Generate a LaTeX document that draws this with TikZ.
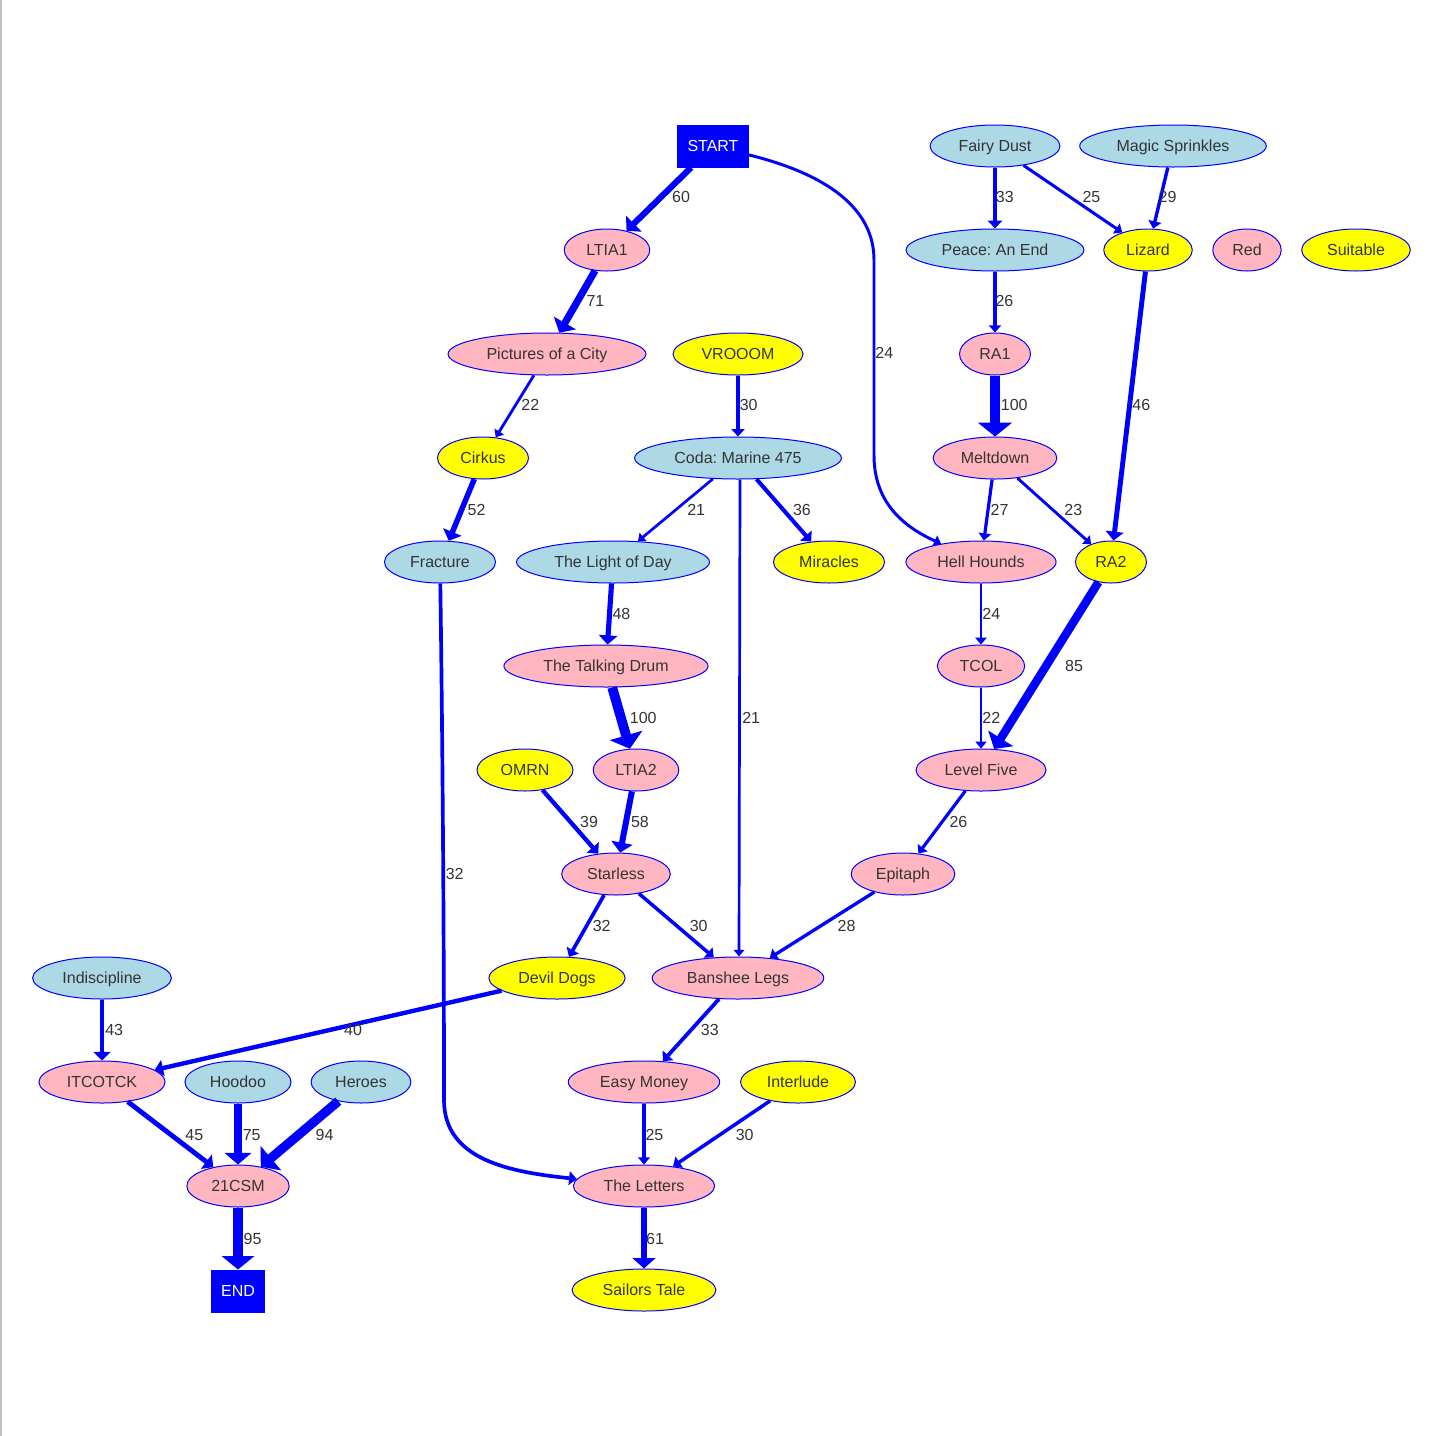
\documentclass[tikz,border=0pt]{standalone}
\usepackage{fontspec}
\setmainfont{Liberation Sans}
\usetikzlibrary{arrows.meta, shapes.geometric}
\definecolor{vblue}{HTML}{0000FF}
\definecolor{pinknode}{HTML}{FFB6C1}
\definecolor{bluenode}{HTML}{ADD8E6}
\definecolor{yellownode}{HTML}{FFFF00}
\definecolor{txtgray}{HTML}{343434}
\definecolor{framegray}{HTML}{C0C0C0}

\begin{document}
\frenchspacing
\begin{tikzpicture}[
  x=1pt, y=-1pt,
  song/.style={
    ellipse, draw=vblue, line width=1pt, fill=#1,
    font=\fontsize{16}{19}\selectfont, text=txtgray,
    inner xsep=9.5pt, inner ysep=0pt, minimum height=42pt,
    text height=12.5pt, text depth=1pt
  },
  endbox/.style={
    rectangle, draw=vblue, line width=1pt, fill=vblue, text=white,
    font=\fontsize{16}{19}\selectfont,
    inner xsep=10pt, inner ysep=0pt, minimum height=42pt,
    text height=12.5pt, text depth=1pt
  },
  link/.style={draw=vblue, line width={0.9*#1pt+0.8pt},
    -{Triangle[length=4pt 1, width=2pt 3.2]}},
  wlabel/.style={font=\fontsize{16}{19}\selectfont, text=txtgray,
    anchor=west, inner sep=0pt},
]

% Frame
\useasboundingbox (0,0) rectangle (1436,1436);
\fill[white] (0,0) rectangle (1436,1436);
\fill[framegray] (0,0) rectangle (2,1436);

% =============================================
% Nodes
% =============================================
\node[endbox] (start) at (713,146) {START};
\node[song={bluenode}] (fairydust) at (995,146) {Fairy Dust};
\node[song={bluenode}] (magic) at (1173,146) {Magic Sprinkles};

\node[song={pinknode}] (ltia1) at (607,250) {LTIA1};
\node[song={bluenode}] (peace) at (995,250) {Peace: An End};
\node[song={yellownode}] (lizard) at (1148,250) {Lizard};
\node[song={pinknode}] (red) at (1247,250) {Red};
\node[song={yellownode}] (suitable) at (1356,250) {Suitable};

\node[song={pinknode}] (pictures) at (547,354) {Pictures of a City};
\node[song={yellownode}] (vrooom) at (738,354) {VROOOM};
\node[song={pinknode}] (ra1) at (995,354) {RA1};

\node[song={yellownode}] (cirkus) at (483,458) {Cirkus};
\node[song={bluenode}] (coda) at (738,458) {Coda: Marine 475};
\node[song={pinknode}] (meltdown) at (995,458) {Meltdown};

\node[song={bluenode}] (fracture) at (440,562) {Fracture};
\node[song={bluenode}] (lightofday) at (613,562) {The Light of Day};
\node[song={yellownode}] (miracles) at (829,562) {Miracles};
\node[song={pinknode}] (hellhounds) at (981,562) {Hell Hounds};
\node[song={yellownode}] (ra2) at (1111,562) {RA2};

\node[song={pinknode}] (talkingdrum) at (606,666) {The Talking Drum};
\node[song={pinknode}] (tcol) at (981,666) {TCOL};

\node[song={yellownode}] (omrn) at (525,770) {OMRN};
\node[song={pinknode}] (ltia2) at (636,770) {LTIA2};
\node[song={pinknode}] (levelfive) at (981,770) {Level Five};

\node[song={pinknode}] (starless) at (616,874) {Starless};
\node[song={pinknode}] (epitaph) at (903,874) {Epitaph};

\node[song={bluenode}] (indiscipline) at (102,978) {Indiscipline};
\node[song={yellownode}] (devildogs) at (557,978) {Devil Dogs};
\node[song={pinknode}] (banshee) at (738,978) {Banshee Legs};

\node[song={pinknode}] (itcotck) at (102,1082) {ITCOTCK};
\node[song={bluenode}] (hoodoo) at (238,1082) {Hoodoo};
\node[song={bluenode}] (heroes) at (361,1082) {Heroes};
\node[song={pinknode}] (easymoney) at (644,1082) {Easy Money};
\node[song={yellownode}] (interlude) at (798,1082) {Interlude};

\node[song={pinknode}] (csm) at (238,1186) {21CSM};
\node[song={pinknode}] (letters) at (644,1186) {The Letters};

\node[endbox] (end) at (238,1291) {END};
\node[song={yellownode}] (sailors) at (644,1290) {Sailors Tale};

% =============================================
% Connections (width follows the count)
% =============================================
\draw[link=6] (start) -- (ltia1) node[wlabel] at (669,197) {60};
\draw[link=2.4] (start) .. controls (830,175) and (874,210) .. (874,260)
  -- (874,455) .. controls (874,500) and (900,525) .. (hellhounds)
  node[wlabel] at (874,353) {24};
\draw[link=7.1] (ltia1) -- (pictures) node[wlabel] at (583,301) {71};
\draw[link=3.3] (fairydust) -- (peace) node[wlabel] at (994,197) {33};
\draw[link=2.5] (fairydust) -- (lizard) node[wlabel] at (1081,197) {25};
\draw[link=2.9] (magic) -- (lizard) node[wlabel] at (1157,197) {29};
\draw[link=2.6] (peace) -- (ra1) node[wlabel] at (994,301) {26};
\draw[link=4.6] (lizard) -- (ra2) node[wlabel] at (1130,405) {46};
\draw[link=2.2] (pictures) -- (cirkus) node[wlabel] at (520,405) {22};
\draw[link=3] (vrooom) -- (coda) node[wlabel] at (738,405) {30};
\draw[link=10] (ra1) -- (meltdown) node[wlabel] at (996,405) {100};
\draw[link=5.2] (cirkus) -- (fracture) node[wlabel] at (465,510) {52};
\draw[link=2.1] (coda) -- (lightofday) node[wlabel] at (686,510) {21};
\draw[link=3.6] (coda) -- (miracles) node[wlabel] at (791,510) {36};
\draw[link=2.1] ([xshift=2pt]coda.south) -- ([xshift=1pt]banshee.north)
  node[wlabel] at (741,718) {21};
\draw[link=2.7] (meltdown) -- (hellhounds) node[wlabel] at (989,510) {27};
\draw[link=2.3] (meltdown) -- (ra2) node[wlabel] at (1063,510) {23};
\draw[link=3.2] (fracture) .. controls (442,700) and (444,900) .. (444,1100)
  .. controls (444,1160) and (510,1172) .. (letters)
  node[wlabel] at (444,874) {32};
\draw[link=4.8] (lightofday) -- (talkingdrum) node[wlabel] at (610,614) {48};
\draw[link=2.4] (hellhounds) -- (tcol) node[wlabel] at (981,614) {24};
\draw[link=8.5] (ra2) -- (levelfive) node[wlabel] at (1061,666) {85};
\draw[link=10] (talkingdrum) -- (ltia2) node[wlabel] at (625,718) {100};
\draw[link=2.2] (tcol) -- (levelfive) node[wlabel] at (981,718) {22};
\draw[link=3.9] (omrn) -- (starless) node[wlabel] at (578,822) {39};
\draw[link=5.8] (ltia2) -- (starless) node[wlabel] at (628,822) {58};
\draw[link=2.6] (levelfive) -- (epitaph) node[wlabel] at (948,822) {26};
\draw[link=3.2] (starless) -- (devildogs) node[wlabel] at (591,926) {32};
\draw[link=3] (starless) -- (banshee) node[wlabel] at (688,926) {30};
\draw[link=2.8] (epitaph) -- (banshee) node[wlabel] at (836,926) {28};
\draw[link=4.3] (indiscipline) -- (itcotck) node[wlabel] at (103,1030) {43};
\draw[link=4] (devildogs) -- (itcotck) node[wlabel] at (342,1030) {40};
\draw[link=3.3] (banshee) -- (easymoney) node[wlabel] at (699,1030) {33};
\draw[link=4.5] (itcotck) -- (csm) node[wlabel] at (183,1135) {45};
\draw[link=7.5] (hoodoo) -- (csm) node[wlabel] at (239,1135) {75};
\draw[link=9.4] (heroes) -- (csm) node[wlabel] at (311,1135) {94};
\draw[link=2.5] (easymoney) -- (letters) node[wlabel] at (644,1135) {25};
\draw[link=3] (interlude) -- (letters) node[wlabel] at (734,1135) {30};
\draw[link=9.5] (csm) -- (end) node[wlabel] at (239,1239) {95};
\draw[link=6.1] (letters) -- (sailors) node[wlabel] at (643,1239) {61};

\end{tikzpicture}
\end{document}
